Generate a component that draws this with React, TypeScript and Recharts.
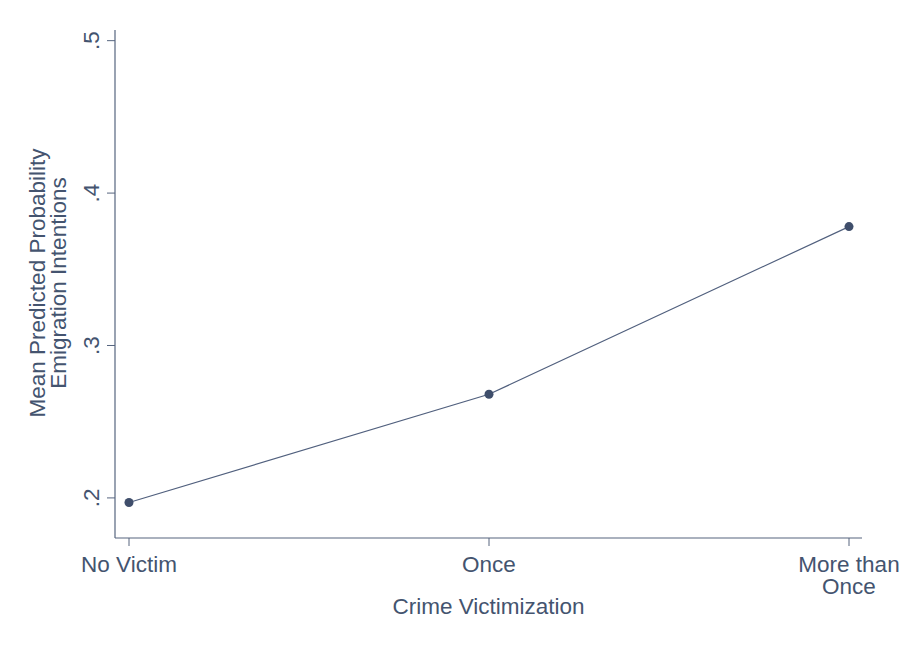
import { LineChart, Line, XAxis, YAxis, Label } from "recharts";

const categories = ["No Victim", "Once", "More than\nOnce"];
const meanProb = [0.197, 0.268, 0.378];
const yTicks = [0.2, 0.3, 0.4, 0.5];

const data = categories.map((c, i) => ({ cat: c, prob: meanProb[i] }));

const INK = "#44546f";
const AXIS = "#56657f";
const FONT = "'Liberation Sans', Arial, sans-serif";
const FS = 22.5;

function XTick({ x, y, payload }: any) {
  const lines = String(payload.value).split("\n");
  return (
    <text x={x} y={y + 24} textAnchor="middle" fill={INK} fontSize={FS} fontFamily={FONT}>
      {lines.map((l, i) => (
        <tspan key={i} x={x} dy={i === 0 ? 0 : 21.5}>
          {l}
        </tspan>
      ))}
    </text>
  );
}

function YTick({ x, y, payload }: any) {
  const label = payload.value.toFixed(1).replace(/^0/, "");
  const bx = x - 6;
  return (
    <text x={bx} y={y} transform={`rotate(-90, ${bx}, ${y})`} textAnchor="middle" fill={INK} fontSize={FS} fontFamily={FONT}>
      {label}
    </text>
  );
}

function YTitle({ viewBox }: any) {
  const cy = viewBox.y + viewBox.height / 2 - 1;
  return (
    <g fill={INK} fontSize={FS} fontFamily={FONT}>
      <text x={45} y={cy} transform={`rotate(-90, 45, ${cy})`} textAnchor="middle">
        Mean Predicted Probability
      </text>
      <text x={66} y={cy} transform={`rotate(-90, 66, ${cy})`} textAnchor="middle">
        Emigration Intentions
      </text>
    </g>
  );
}

function XTitle({ viewBox }: any) {
  const cx = viewBox.x + viewBox.width / 2;
  return (
    <text x={cx} y={614} textAnchor="middle" fill={INK} fontSize={FS} fontFamily={FONT}>
      Crime Victimization
    </text>
  );
}

export default function App() {
  return (
    <div style={{ width: 900, height: 654, background: "#fff" }}>
      <style>{"body{margin:0}"}</style>
      <LineChart width={900} height={654} data={data} margin={{ top: 30, right: 38, left: 0, bottom: 0 }}>
        <XAxis
          dataKey="cat"
          type="category"
          padding={{ left: 14, right: 13 }}
          height={116}
          tick={<XTick />}
          tickLine={{ stroke: AXIS }}
          tickSize={8}
          axisLine={{ stroke: AXIS, strokeWidth: 1.2 }}
          interval={0}
        >
          <Label content={<XTitle />} />
        </XAxis>
        <YAxis
          type="number"
          domain={[0.1737, 0.507]}
          ticks={yTicks}
          allowDataOverflow
          width={115}
          tick={<YTick />}
          tickLine={{ stroke: AXIS }}
          tickSize={8}
          axisLine={{ stroke: AXIS, strokeWidth: 1.2 }}
        >
          <Label content={<YTitle />} />
        </YAxis>
        <Line
          type="linear"
          dataKey="prob"
          stroke="#51607e"
          strokeWidth={1.2}
          dot={{ r: 4.5, fill: "#3f4e6b", stroke: "#3f4e6b", strokeWidth: 0 }}
          activeDot={false}
          isAnimationActive={false}
        />
      </LineChart>
    </div>
  );
}
